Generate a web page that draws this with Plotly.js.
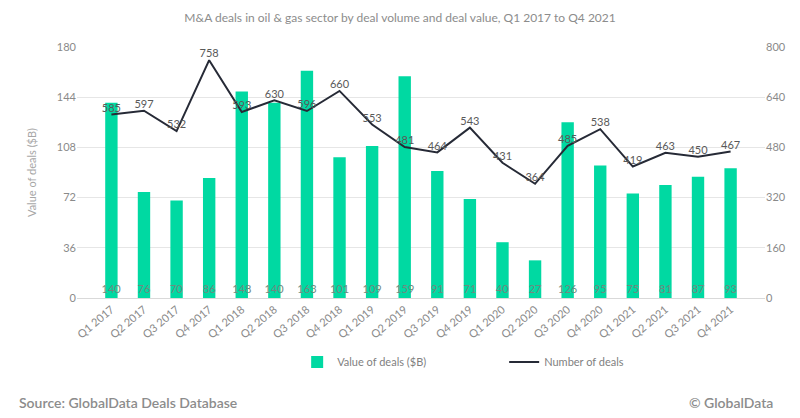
<!DOCTYPE html>
<html>
<head>
<meta charset="utf-8">
<script src="https://cdn.plot.ly/plotly-3.0.1.min.js"></script>
<style>
  html, body { margin: 0; padding: 0; background: #fff; }
  #chart { width: 800px; height: 418px; }
</style>
</head>
<body>
<div id="chart"></div>
<script>
const quarters = ["Q1 2017", "Q2 2017", "Q3 2017", "Q4 2017", "Q1 2018", "Q2 2018", "Q3 2018", "Q4 2018",
    "Q1 2019", "Q2 2019", "Q3 2019", "Q4 2019", "Q1 2020", "Q2 2020", "Q3 2020", "Q4 2020",
    "Q1 2021", "Q2 2021", "Q3 2021", "Q4 2021"];
const dealValue = [140, 76, 70, 86, 148, 140, 163, 101, 109, 159, 91, 71, 40, 27, 126, 95, 75, 81, 87, 93];
const dealCount = [585, 597, 532, 758, 593, 630, 596, 660, 553, 481, 464, 543, 431, 364, 485, 538, 419, 463, 450, 467];

const FONT = "Lato, 'Open Sans', sans-serif";
const GREY = "#8a8a8a";

let bars = {
    name: "Value of deals ($B)",
    type: "bar",
    x: quarters,
    y: dealValue,
    marker: { color: "#00d9a2" },
    text: dealValue.map(String),
    textposition: "inside",
    insidetextanchor: "start",
    constraintext: "none",
    textangle: 0,
    textfont: { family: FONT, size: 11, color: "#6e8a80" },
    hoverinfo: "x+y",
};

let line = {
    name: "Number of deals",
    type: "scatter",
    mode: "lines+text",
    x: quarters,
    y: dealCount,
    yaxis: "y2",
    line: { color: "#262a36", width: 2 },
    text: dealCount.map(String),
    textposition: "top center",
    textfont: { family: FONT, size: 11, color: "#595959" },
    cliponaxis: false,
};

let layout = {
    width: 800,
    height: 418,
    margin: { l: 77, r: 35, t: 47, b: 120 },
    paper_bgcolor: "#fff",
    plot_bgcolor: "#fff",
    font: { family: FONT, size: 11, color: GREY },
    title: {
        text: "M&A deals in oil & gas sector by deal volume and deal value, Q1 2017 to Q4 2021",
        font: { family: FONT, size: 12, color: "#8c8c8c" },
        x: 0.5,
        xanchor: "center",
        y: 0.957,
        yanchor: "middle",
    },
    bargap: 0.62,
    showlegend: true,
    legend: {
        orientation: "h",
        x: 0.32,
        xanchor: "left",
        y: -0.255,
        yanchor: "middle",
        font: { family: FONT, size: 11, color: "#7f7f7f" },
        itemwidth: 30,
        entrywidth: 162,
        traceorder: "normal",
    },
    xaxis: {
        type: "category",
        tickangle: -40,
        tickfont: { family: FONT, size: 11, color: GREY },
        showgrid: false,
        showline: true,
        linecolor: "#d9d9d9",
        ticks: "",
        automargin: false,
    },
    yaxis: {
        range: [0, 180],
        dtick: 36,
        gridcolor: "#e6e6e6",
        zeroline: false,
        tickfont: { family: FONT, size: 11, color: GREY },
        ticks: "",
        ticklen: 0,
        title: { text: "Value of deals ($B)", font: { family: FONT, size: 11, color: "#a6a6a6" }, standoff: 18 },
        automargin: false,
    },
    yaxis2: {
        overlaying: "y",
        side: "right",
        range: [0, 800],
        dtick: 160,
        showgrid: false,
        zeroline: false,
        tickfont: { family: FONT, size: 11, color: GREY },
        automargin: false,
    },
    annotations: [
        {
            text: "Source: GlobalData Deals Database",
            xref: "paper", yref: "paper",
            x: -0.087, y: -0.415,
            xanchor: "left", yanchor: "middle",
            showarrow: false,
            font: { family: FONT, size: 14, color: "#8c8c8c", weight: 600 },
        },
        {
            text: "© GlobalData",
            xref: "paper", yref: "paper",
            x: 1.015, y: -0.415,
            xanchor: "right", yanchor: "middle",
            showarrow: false,
            font: { family: FONT, size: 14, color: "#8c8c8c", weight: 600 },
        },
    ],
};

Plotly.newPlot("chart", [bars, line], layout, { displayModeBar: false, staticPlot: true });
</script>
</body>
</html>
